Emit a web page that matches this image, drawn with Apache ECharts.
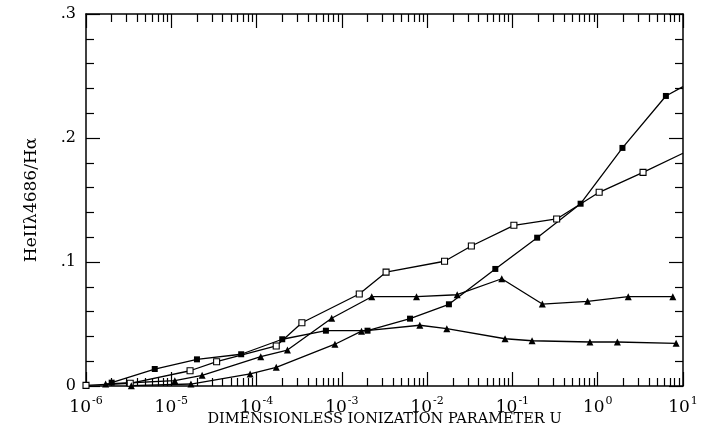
<!DOCTYPE html>
<html>
<head>
<meta charset="utf-8">
<script src="https://cdn.jsdelivr.net/npm/echarts@6/dist/echarts.min.js"></script>
<style>
html,body{margin:0;padding:0;background:#fff;}
#chart{width:705px;height:426px;}
</style>
</head>
<body>
<div id="chart"></div>
<script>
// ---- data (U, HeII4686/Halpha) ----
var filledSqU = [2e-6, 6.4e-6, 2e-5, 6.6e-5, 2e-4, 6.5e-4, 2e-3, 6.3e-3, 0.018, 0.063, 0.195, 0.63, 1.95, 6.3];
var filledSqV = [0.0027, 0.0137, 0.0215, 0.0256, 0.0377, 0.0446, 0.0446, 0.0543, 0.0659, 0.0944, 0.1196, 0.147, 0.192, 0.2339];
var filledSqEdge = [10, 0.2414];

var openSqU = [1e-6, 3.3e-6, 1.66e-5, 3.4e-5, 1.7e-4, 3.4e-4, 1.6e-3, 3.3e-3, 0.016, 0.033, 0.104, 0.33, 1.04, 3.4];
var openSqV = [0.0005, 0.0022, 0.0123, 0.0196, 0.0323, 0.051, 0.0742, 0.0918, 0.1006, 0.1129, 0.1296, 0.1347, 0.1562, 0.1723];
var openSqEdge = [10, 0.1877];

var triAU = [1.7e-6, 1.1e-5, 2.3e-5, 1.12e-4, 2.3e-4, 7.6e-4, 2.24e-3, 7.5e-3, 0.0225, 0.075, 0.224, 0.76, 2.28, 7.6];
var triAV = [0.0016, 0.0043, 0.0086, 0.0236, 0.029, 0.0546, 0.072, 0.072, 0.0736, 0.0865, 0.0661, 0.0683, 0.072, 0.072];

var triBU = [3.4e-6, 1.7e-5, 8.4e-5, 1.7e-4, 8.3e-4, 1.7e-3, 8.2e-3, 0.017, 0.082, 0.17, 0.81, 1.7, 8.3];
var triBV = [0.0003, 0.0016, 0.0097, 0.0151, 0.0337, 0.0442, 0.049, 0.0462, 0.0381, 0.0365, 0.0355, 0.0355, 0.0344];

// ---- ticks / labels ----
var xExponents = ['-6', '-5', '-4', '-3', '-2', '-1', '0', '1'];
var xMinorMultipliers = [2, 3, 4, 5, 6, 7, 8, 9];
var yTickLabels = ['0', '.1', '.2', '.3'];

var FONT = 'DejaVu Serif';
var minorTickLogs = [];
for (var e = -6; e < 1; e++) {
  xMinorMultipliers.forEach(function (m) { minorTickLogs.push(e + Math.log10(m)); });
}

function pairs(us, vs) { return us.map(function (u, i) { return [u, vs[i]]; }); }
function withEdge(us, vs, edge) {
  var d = pairs(us, vs);
  d.push({ value: edge, symbol: 'none' });
  return d;
}

function tickAxis(pos, major, showLabel) {
  return {
    type: 'value', min: -6, max: 1, position: pos,
    interval: major ? 1 : undefined,
    axisLine: { show: false, onZero: false },
    splitLine: { show: false },
    axisTick: major
      ? { show: true, inside: true, length: 14, lineStyle: { color: '#000', width: 1.2 } }
      : { show: true, inside: true, length: 8, customValues: minorTickLogs, lineStyle: { color: '#000', width: 1.2 } },
    axisLabel: showLabel ? {
      show: true, margin: 10,
      formatter: function (v) { return '{b|10}{s|' + xExponents[Math.round(v) + 6] + '}'; },
      rich: {
        b: { fontFamily: FONT, fontSize: 17, color: '#000', verticalAlign: 'bottom' },
        s: { fontFamily: FONT, fontSize: 11, color: '#000', verticalAlign: 'bottom', padding: [0, 0, 9, 1] }
      }
    } : { show: false }
  };
}

var lineStyle = { color: '#000', width: 1.3 };

var option = {
  animation: false,
  backgroundColor: '#fff',
  grid: { left: 86, right: 22, top: 14, bottom: 40, containLabel: false, outerBoundsMode: 'none' },
  xAxis: [
    {
      type: 'log', logBase: 10, min: 1e-6, max: 10, position: 'bottom',
      axisLine: { show: true, onZero: false, lineStyle: { color: '#000', width: 1.5 } },
      axisTick: { show: false }, axisLabel: { show: false }, splitLine: { show: false },
      name: 'DIMENSIONLESS IONIZATION PARAMETER U',
      nameLocation: 'middle', nameGap: 26,
      nameTextStyle: { fontFamily: FONT, fontSize: 14.5, color: '#000' }
    },
    tickAxis('bottom', true, true),
    tickAxis('bottom', false, false),
    tickAxis('top', true, false),
    tickAxis('top', false, false),
    {
      type: 'log', logBase: 10, min: 1e-6, max: 10, position: 'top',
      axisLine: { show: true, onZero: false, lineStyle: { color: '#000', width: 1.5 } },
      axisTick: { show: false }, axisLabel: { show: false }, splitLine: { show: false }
    }
  ],
  yAxis: [
    {
      type: 'value', min: 0, max: 0.3, interval: 0.1, position: 'left',
      axisLine: { show: true, onZero: false, lineStyle: { color: '#000', width: 1.5 } },
      axisTick: { show: true, inside: true, length: 14, lineStyle: { color: '#000', width: 1.2 } },
      minorTick: { show: true, splitNumber: 5, length: 8, lineStyle: { color: '#000', width: 1.2 } },
      splitLine: { show: false },
      axisLabel: {
        margin: 10, color: '#000', fontFamily: FONT, fontSize: 16,
        formatter: function (v) { return yTickLabels[Math.round(v * 10)]; }
      },
      name: 'HeIIλ4686/Hα', nameLocation: 'middle', nameGap: 46,
      nameTextStyle: { fontFamily: FONT, fontSize: 17, color: '#000' }
    },
    {
      type: 'value', min: 0, max: 0.3, interval: 0.1, position: 'right',
      axisLine: { show: true, onZero: false, lineStyle: { color: '#000', width: 1.5 } },
      axisTick: { show: true, inside: true, length: 14, lineStyle: { color: '#000', width: 1.2 } },
      minorTick: { show: true, splitNumber: 5, length: 8, lineStyle: { color: '#000', width: 1.2 } },
      splitLine: { show: false },
      axisLabel: { show: false }
    }
  ],
  series: [
    {
      type: 'line', xAxisIndex: 0, yAxisIndex: 0,
      data: withEdge(filledSqU, filledSqV, filledSqEdge),
      symbol: 'rect', symbolSize: 6, showAllSymbol: true,
      lineStyle: lineStyle, itemStyle: { color: '#000' }
    },
    {
      type: 'line', xAxisIndex: 0, yAxisIndex: 0,
      data: withEdge(openSqU, openSqV, openSqEdge),
      symbol: 'rect', symbolSize: 6, showAllSymbol: true,
      lineStyle: lineStyle, itemStyle: { color: '#fff', borderColor: '#000', borderWidth: 1.1 }
    },
    {
      type: 'line', xAxisIndex: 0, yAxisIndex: 0,
      data: pairs(triAU, triAV),
      symbol: 'triangle', symbolSize: 7, showAllSymbol: true,
      lineStyle: lineStyle, itemStyle: { color: '#000' }
    },
    {
      type: 'line', xAxisIndex: 0, yAxisIndex: 0,
      data: pairs(triBU, triBV),
      symbol: 'triangle', symbolSize: 7, showAllSymbol: true,
      lineStyle: lineStyle, itemStyle: { color: '#000' }
    }
  ]
};

var chart = echarts.init(document.getElementById('chart'), null, { renderer: 'canvas' });
chart.setOption(option);
</script>
</body>
</html>
